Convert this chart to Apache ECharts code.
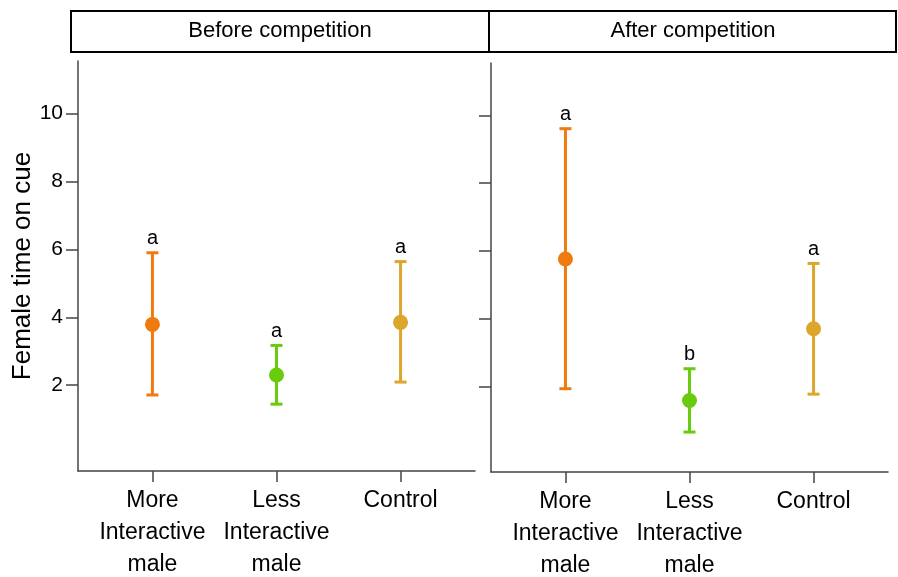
<!DOCTYPE html>
<html>
<head>
<meta charset="utf-8">
<script src="https://cdn.jsdelivr.net/npm/echarts@6/dist/echarts.min.js"></script>
<style>
  html, body { margin: 0; padding: 0; background: #fff; }
  #chart { width: 898px; height: 577px; }
</style>
</head>
<body>
<div id="chart"></div>
<script>
// categories and positions on the x scale
const groups = ['More\nInteractive\nmale', 'Less\nInteractive\nmale', 'Control'];
const positions = [1, 2, 3];
const panelTitles = ['Before competition', 'After competition'];

// before competition
const beforeMean = [3.79, 2.30, 3.85];
const beforeLow = [1.71, 1.44, 2.09];
const beforeHigh = [5.90, 3.17, 5.64];
const beforeLetters = ['a', 'a', 'a'];

// after competition
const afterMean = [5.76, 1.58, 3.70];
const afterLow = [1.93, 0.65, 1.77];
const afterHigh = [9.61, 2.52, 5.63];
const afterLetters = ['a', 'b', 'a'];

const yTicks = [2, 4, 6, 8, 10];
const groupColors = ['#EE7A10', '#68CB0C', '#DCA52C'];

const font = "'Liberation Sans', Arial, sans-serif";
const axisColor = '#444';

const chart = echarts.init(document.getElementById('chart'));

function xAxisFor(gridIndex) {
    return {
        type: 'value',
        gridIndex: gridIndex,
        min: 0.4,
        max: 3.6,
        splitLine: { show: false },
        axisLine: { show: true, onZero: false, lineStyle: { color: axisColor, width: 1.5 } },
        axisTick: { show: true, customValues: positions, length: 11, lineStyle: { color: axisColor, width: 1.5 } },
        axisLabel: {
            customValues: positions,
            formatter: (v) => groups[Math.round(v) - 1] || '',
            color: '#000',
            fontFamily: font,
            fontSize: 23,
            lineHeight: 32,
            margin: 14
        }
    };
}

function yAxisFor(gridIndex, showLabels) {
    return {
        type: 'value',
        gridIndex: gridIndex,
        min: -0.53,
        max: 11.55,
        splitLine: { show: false },
        axisLine: { show: true, onZero: false, lineStyle: { color: axisColor, width: 1.5 } },
        axisTick: { show: true, customValues: yTicks, length: 12, lineStyle: { color: axisColor, width: 1.5 } },
        axisLabel: {
            show: showLabels,
            customValues: yTicks,
            color: '#000',
            fontFamily: font,
            fontSize: 21,
            margin: 15
        },
        name: showLabels ? 'Female time on cue' : '',
        nameLocation: 'middle',
        nameGap: 41,
        nameTextStyle: { color: '#000', fontFamily: font, fontSize: 26 }
    };
}

function buildRows(mean, low, high, letters) {
    return positions.map((p, i) => [p, mean[i], low[i], high[i], letters[i], i]);
}

function errorBars(gridIndex, rows) {
    return {
        type: 'custom',
        xAxisIndex: gridIndex,
        yAxisIndex: gridIndex,
        data: rows,
        z: 2,
        renderItem: (params, api) => {
            const x = api.value(0);
            const lo = api.coord([x, api.value(2)]);
            const hi = api.coord([x, api.value(3)]);
            const color = groupColors[api.value(5)];
            const style = { stroke: color, lineWidth: 3 };
            const half = 6;
            return {
                type: 'group',
                children: [
                    { type: 'line', shape: { x1: lo[0], y1: lo[1], x2: hi[0], y2: hi[1] }, style: style },
                    { type: 'line', shape: { x1: hi[0] - half, y1: hi[1], x2: hi[0] + half, y2: hi[1] }, style: style },
                    { type: 'line', shape: { x1: lo[0] - half, y1: lo[1], x2: lo[0] + half, y2: lo[1] }, style: style },
                    {
                        type: 'text',
                        x: hi[0],
                        y: hi[1] - 4,
                        style: {
                            text: api.value(4),
                            fill: '#000',
                            font: '20px ' + font,
                            align: 'center',
                            verticalAlign: 'bottom'
                        }
                    }
                ]
            };
        }
    };
}

function meanPoints(gridIndex, rows) {
    return {
        type: 'scatter',
        xAxisIndex: gridIndex,
        yAxisIndex: gridIndex,
        symbol: 'circle',
        symbolSize: 15,
        z: 3,
        data: rows.map(r => ({ value: [r[0], r[1]], itemStyle: { color: groupColors[r[5]], opacity: 1 } }))
    };
}

const beforeRows = buildRows(beforeMean, beforeLow, beforeHigh, beforeLetters);
const afterRows = buildRows(afterMean, afterLow, afterHigh, afterLetters);

chart.setOption({
    animation: false,
    backgroundColor: '#fff',
    grid: [
        { left: 78, top: 61, width: 397, height: 410, outerBoundsMode: 'none', containLabel: false },
        { left: 491, top: 63, width: 397, height: 409, outerBoundsMode: 'none', containLabel: false }
    ],
    xAxis: [xAxisFor(0), xAxisFor(1)],
    yAxis: [yAxisFor(0, true), yAxisFor(1, false)],
    graphic: [
        { type: 'rect', shape: { x: 71, y: 11, width: 418, height: 41 }, style: { fill: '#fff', stroke: '#000', lineWidth: 2 } },
        { type: 'rect', shape: { x: 489, y: 11, width: 407, height: 41 }, style: { fill: '#fff', stroke: '#000', lineWidth: 2 } },
        { type: 'text', x: 280, y: 31, style: { text: panelTitles[0], fill: '#000', font: '22px ' + font, align: 'center', verticalAlign: 'middle' } },
        { type: 'text', x: 693, y: 31, style: { text: panelTitles[1], fill: '#000', font: '22px ' + font, align: 'center', verticalAlign: 'middle' } }
    ],
    series: [
        errorBars(0, beforeRows),
        meanPoints(0, beforeRows),
        errorBars(1, afterRows),
        meanPoints(1, afterRows)
    ]
});

window.addEventListener('resize', () => chart.resize());
</script>
</body>
</html>
